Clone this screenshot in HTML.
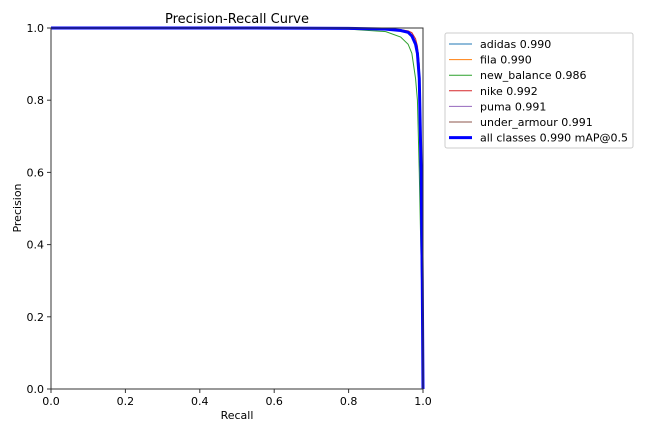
<!DOCTYPE html>
<html><head><meta charset="utf-8"><style>
body{margin:0;background:#fff;font-family:"DejaVu Sans","Liberation Sans",sans-serif;}
svg text{font-family:"DejaVu Sans","Liberation Sans",sans-serif;fill:#000}
</style></head><body>
<svg id="c" width="650" height="433">
<text x="237" y="23" font-size="13" text-anchor="middle">Precision-Recall Curve</text>
<g id="curves"></g>
<rect x="51" y="28" width="372" height="361" fill="none" stroke="#333" stroke-width="1"/>
<g id="ticks"></g>
<text x="237" y="419" font-size="11" text-anchor="middle">Recall</text>
<text transform="translate(21,208) rotate(-90)" font-size="11" text-anchor="middle">Precision</text>
<g id="legend"></g>
</svg>
<script>
const recall=[0,0.5,0.8,0.9,0.94,0.96,0.97,0.98,0.985,0.99,0.995,0.998,1.0];
const classNames=["adidas 0.990","fila 0.990","new_balance 0.986","nike 0.992","puma 0.991","under_armour 0.991","all classes 0.990 mAP@0.5"];
const colors=["#1f77b4","#ff7f0e","#2ca02c","#d62728","#9467bd","#8c564b","#0000ff"];
const pAdidas=[1,1,0.999,0.997,0.993,0.988,0.978,0.955,0.93,0.86,0.6,0.3,0];
const pFila=[1,1,0.999,0.997,0.993,0.988,0.978,0.955,0.93,0.85,0.6,0.3,0];
const pNewBalance=[1,0.999,0.997,0.99,0.975,0.955,0.93,0.86,0.8,0.6,0.35,0.2,0];
const pNike=[1,1,0.999,0.998,0.995,0.992,0.987,0.97,0.95,0.9,0.65,0.3,0];
const pPuma=[1,1,0.999,0.997,0.993,0.989,0.98,0.96,0.935,0.87,0.62,0.3,0];
const pUnderArmour=[1,1,0.999,0.997,0.993,0.989,0.98,0.96,0.935,0.87,0.62,0.3,0];
const pAll=[1,1,0.999,0.997,0.993,0.988,0.978,0.955,0.93,0.86,0.6,0.3,0];
const series=[pAdidas,pFila,pNewBalance,pNike,pPuma,pUnderArmour,pAll];
const xTicks=[0,0.2,0.4,0.6,0.8,1.0];
const yTicks=[0,0.2,0.4,0.6,0.8,1.0];
const X=v=>51+v*372, Y=v=>389-v*361;
const NS="http://www.w3.org/2000/svg";
const cg=document.getElementById('curves');
series.forEach((s,i)=>{
  const p=document.createElementNS(NS,'polyline');
  p.setAttribute('points',s.map((v,j)=>X(recall[j])+','+Y(v)).join(' '));
  p.setAttribute('fill','none');p.setAttribute('stroke',colors[i]);
  p.setAttribute('stroke-width',i==6?3:1);
  
  
  cg.appendChild(p);
});
const tg=document.getElementById('ticks');
xTicks.forEach(t=>{
  const l=document.createElementNS(NS,'line');
  l.setAttribute('x1',X(t));l.setAttribute('x2',X(t));l.setAttribute('y1',389);l.setAttribute('y2',393);l.setAttribute('stroke','#333');
  
  
  tg.appendChild(l);
  const tx=document.createElementNS(NS,'text');
  tx.setAttribute('x',X(t));tx.setAttribute('y',405);tx.setAttribute('font-size','11');tx.setAttribute('text-anchor','middle');
  tx.textContent=t.toFixed(1);
  
  
  tg.appendChild(tx);
});
yTicks.forEach(t=>{
  const l=document.createElementNS(NS,'line');
  l.setAttribute('x1',47);l.setAttribute('x2',51);l.setAttribute('y1',Y(t));l.setAttribute('y2',Y(t));l.setAttribute('stroke','#333');
  
  
  tg.appendChild(l);
  const tx=document.createElementNS(NS,'text');
  tx.setAttribute('x',44);tx.setAttribute('y',Y(t)+4);tx.setAttribute('font-size','11');tx.setAttribute('text-anchor','end');
  tx.textContent=t.toFixed(1);
  
  
  tg.appendChild(tx);
});
const lg=document.getElementById('legend');
const box=document.createElementNS(NS,'rect');
box.setAttribute('x',445);box.setAttribute('y',33);box.setAttribute('width',188);box.setAttribute('height',115);
box.setAttribute('rx',2);box.setAttribute('fill','#fff');box.setAttribute('stroke','#ccc');


lg.appendChild(box);
classNames.forEach((n,i)=>{
  const y=44+i*15.6;
  const l=document.createElementNS(NS,'line');
  l.setAttribute('x1',449);l.setAttribute('x2',472);l.setAttribute('y1',y);l.setAttribute('y2',y);
  l.setAttribute('stroke',colors[i]);l.setAttribute('stroke-width',i==6?3:1);
  
  
  lg.appendChild(l);
  const t=document.createElementNS(NS,'text');
  t.setAttribute('x',480);t.setAttribute('y',y+4);t.setAttribute('font-size','11');
  t.textContent=n;
  
  
  lg.appendChild(t);
});
</script>
</body></html>
